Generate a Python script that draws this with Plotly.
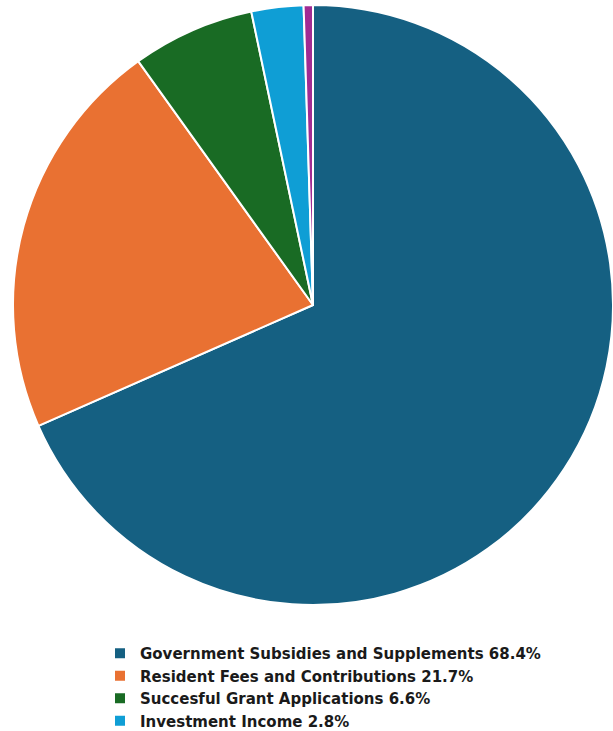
import plotly.graph_objects as go

labels = ["Government Subsidies and Supplements", "Resident Fees and Contributions",
          "Succesful Grant Applications", "Investment Income", "Other"]
values = [68.4, 21.7, 6.6, 2.8, 0.5]
colors = ["#156082", "#E97132", "#196B24", "#0F9ED5", "#A02B93"]

legend_names = [f"{l} {v}%" for l, v in zip(labels, values)]

W, H = 613, 731
cx, cy, r = 313, 305, 300

fig = go.Figure(go.Pie(
    labels=legend_names,
    values=values,
    sort=False,
    direction="clockwise",
    rotation=0,
    marker=dict(colors=colors, line=dict(color="white", width=2)),
    textinfo="none",
    hoverinfo="label",
    domain=dict(x=[max(0, (cx - r) / W), min(1, (cx + r) / W)],
                y=[max(0, 1 - (cy + r) / H), min(1, 1 - (cy - r) / H)]),
))

fig.update_layout(
    width=W, height=H,
    margin=dict(l=0, r=0, t=0, b=0, autoexpand=False),
    paper_bgcolor="white",
    showlegend=True,
    legend=dict(
        x=100 / W, xanchor="left",
        y=1 - 637 / H, yanchor="top",
        font=dict(family="DejaVu Sans", size=15, color="#1a1a1a", weight="bold"),
        tracegroupgap=0,
        bgcolor="rgba(0,0,0,0)",
    ),
)

fig.write_html(
    "out.html",
    config={"displayModeBar": False},
    post_script="document.body.style.margin='0';document.body.style.overflow='hidden';",
)
